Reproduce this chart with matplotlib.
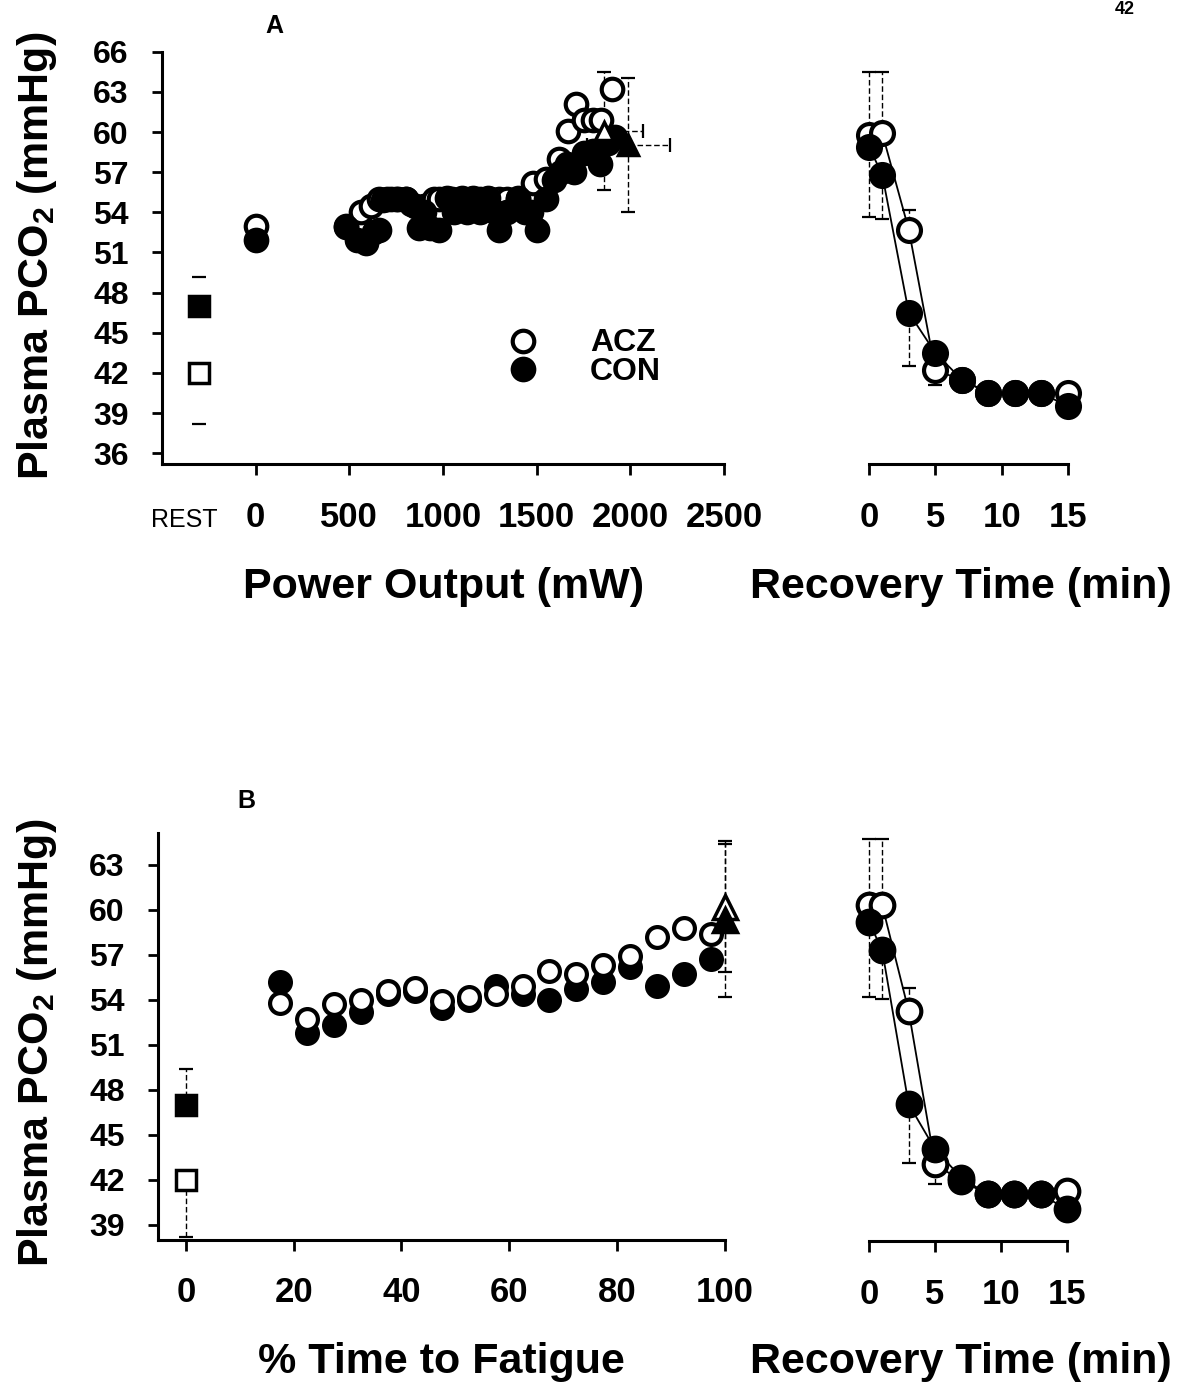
import matplotlib

matplotlib.use("Agg")
import matplotlib.pyplot as plt
from matplotlib.lines import Line2D

# ---------------- data ----------------
REST_X_A = -300          # where the resting samples sit on the power axis
REST_LABEL_X_A = -380

# Panel A, exercise: power output (mW) vs plasma PCO2 (mmHg)
acz_power = [0, 480, 560, 615, 660, 700, 750, 800, 850, 900, 950, 980, 1050, 1100,
             1150, 1200, 1250, 1300, 1340, 1400, 1480, 1550, 1620, 1665, 1710, 1750,
             1800, 1845, 1900]
acz_pco2_a = [53.0, 53.0, 54.0, 54.5, 55.0, 55.0, 55.0, 55.0, 54.5, 54.5, 55.0, 55.0,
              55.0, 55.0, 55.0, 55.0, 55.0, 55.0, 55.0, 55.0, 56.2, 56.5, 58.0, 60.1,
              62.1, 60.9, 60.9, 60.9, 63.2]
con_power = [0, 480, 540, 590, 630, 660, 680, 720, 760, 800, 830, 870, 900, 930, 980,
             1020, 1060, 1100, 1130, 1160, 1200, 1240, 1280, 1300, 1340, 1400, 1440,
             1470, 1500, 1550, 1590, 1630, 1660, 1700, 1750, 1800, 1840, 1880, 1920]
con_pco2_a = [51.9, 52.9, 51.9, 51.7, 52.5, 52.7, 54.9, 55.0, 55.0, 55.0, 54.6, 52.8,
              54.0, 52.8, 52.7, 55.1, 54.0, 55.1, 54.0, 55.1, 54.0, 55.1, 54.0, 52.7,
              54.0, 55.1, 54.0, 54.0, 52.7, 55.0, 56.4, 57.0, 57.6, 57.0, 58.4, 58.6,
              57.6, 59.2, 59.6]

rest_acz_a, rest_acz_a_err = 42.0, 3.8
rest_con_a, rest_con_a_err = 47.0, 2.2

# end-exercise (fatigue) means with x and y error
end_acz_power, end_acz_power_err, end_acz_a, end_acz_a_err = 1860, 210, 60.1, 4.4
end_con_power, end_con_power_err, end_con_a, end_con_a_err = 1990, 220, 59.0, 5.0

# Panel A, recovery
rec_time = [0, 1, 3, 5, 7, 9, 11, 13, 15]
rec_acz_a = [59.8, 59.9, 52.7, 42.2, 41.5, 40.5, 40.5, 40.5, 40.5]
rec_con_a = [58.9, 56.8, 46.5, 43.5, 41.5, 40.5, 40.5, 40.5, 39.5]
rec_acz_a_up = [4.7, 4.6, 1.45, 0, 0, 0, 0, 0, 0]
rec_acz_a_lo = [0, 0, 0, 1.1, 0, 0, 0, 0, 0]
rec_con_a_lo = [5.25, 3.3, 3.95, 0, 0, 0, 0, 0, 0]

# Panel B, exercise: % time to fatigue
pct_time = [17.5, 22.5, 27.5, 32.5, 37.5, 42.5, 47.5, 52.5, 57.5, 62.5, 67.5, 72.5,
            77.5, 82.5, 87.5, 92.5, 97.5]
acz_pco2_b = [53.8, 52.7, 53.7, 54.0, 54.55, 54.8, 53.9, 54.2, 54.4, 54.9, 55.9, 55.7,
              56.3, 56.9, 58.2, 58.8, 58.4]
con_pco2_b = [55.2, 51.8, 52.3, 53.2, 54.4, 54.6, 53.45, 54.0, 54.9, 54.4, 54.0, 54.7,
              55.2, 56.2, 54.9, 55.7, 56.7]

rest_acz_b, rest_acz_b_err = 42.0, 3.8
rest_con_b, rest_con_b_err = 47.0, 2.4
end_acz_b, end_acz_b_err = 60.2, 4.35
end_con_b, end_con_b_err = 59.3, 5.1

# Panel B, recovery
rec_acz_b = [60.3, 60.3, 53.3, 43.1, 42.0, 41.1, 41.1, 41.1, 41.3]
rec_con_b = [59.2, 57.3, 47.1, 44.1, 42.2, 41.1, 41.1, 41.1, 40.1]
rec_acz_b_up = [4.4, 4.4, 1.5, 0, 0, 0, 0, 0, 0]
rec_acz_b_lo = [0, 0, 0, 1.3, 0, 0, 0, 0, 0]
rec_con_b_lo = [5.0, 3.2, 3.9, 0, 0, 0, 0, 0, 0]

yticks_a = [36, 39, 42, 45, 48, 51, 54, 57, 60, 63, 66]
yticks_b = [39, 42, 45, 48, 51, 54, 57, 60, 63]
power_ticks = [0, 500, 1000, 1500, 2000, 2500]
pct_ticks = [0, 20, 40, 60, 80, 100]
rec_ticks = [0, 5, 10, 15]

# ---------------- style ----------------
plt.rcParams.update(
    {
        "font.family": ["Liberation Sans", "DejaVu Sans"],
        "font.weight": "bold",
        "mathtext.fontset": "custom",
        "mathtext.rm": "Liberation Sans:bold",
        "mathtext.default": "rm",
        "axes.linewidth": 2.2,
        "xtick.major.width": 2.0,
        "ytick.major.width": 2.0,
        "xtick.major.size": 8,
        "ytick.major.size": 7,
    }
)

W, H = 1191, 1384
fig = plt.figure(figsize=(W / 100, H / 100), dpi=100)


def _axes(left, right, top, bottom):
    """Axes from pixel edges of the reference image."""
    return fig.add_axes([left / W, 1 - bottom / H, (right - left) / W, (bottom - top) / H])


def _style(ax, show_y):
    ax.spines["top"].set_visible(False)
    ax.spines["right"].set_visible(False)
    if not show_y:
        ax.spines["left"].set_visible(False)
        ax.tick_params(axis="y", left=False, labelleft=False)
    ax.patch.set_alpha(0)


def _errbars(ax, x, y, lower, upper, xerr=None, cap=5, lw=1.0):
    eb = ax.errorbar(x, y, yerr=[lower, upper], xerr=xerr, fmt="none", ecolor="black",
                     elinewidth=lw, capsize=cap, capthick=1.6, zorder=1, clip_on=False)
    for lc in eb[2]:
        lc.set_linestyle((0, (4, 2)))
        lc.set_clip_on(False)
        if lw == 0:
            lc.set_visible(False)
    for cap_line in eb[1]:
        cap_line.set_clip_on(False)


def _pts(ax, x, y, marker, filled, ms, z, mew=3.0):
    ax.plot(x, y, ls="none", marker=marker, ms=ms, mfc="black" if filled else "white",
            mec="black", mew=mew, zorder=z, clip_on=False)


def _recovery(ax, acz, con, acz_up, acz_lo, con_lo, ylim, ms):
    _style(ax, show_y=False)
    _errbars(ax, rec_time, acz, acz_lo, acz_up, cap=5)
    _errbars(ax, rec_time, con, con_lo, [0] * len(con), cap=5)
    ax.plot(rec_time, acz, color="black", lw=1.3, zorder=2)
    ax.plot(rec_time, con, color="black", lw=1.3, zorder=2)
    _pts(ax, rec_time, acz, "o", False, ms, 3)
    _pts(ax, rec_time, con, "o", True, ms, 4)
    ax.set_xlim(0, 15)
    ax.set_ylim(*ylim)
    ax.set_xticks(rec_ticks)
    ax.tick_params(axis="x", labelsize=25, pad=19)


# ---------------- panel A ----------------
ylim_a = (35.2, 66)
ax_a = _axes(162, 724, 51.7, 464)
_style(ax_a, show_y=True)
# resting error bars: only the caps survive in the scan
_errbars(ax_a, [REST_X_A], [rest_acz_a], [rest_acz_a_err], [0], cap=5, lw=0)
_errbars(ax_a, [REST_X_A], [rest_con_a], [0], [rest_con_a_err], cap=5, lw=0)
_errbars(ax_a, [end_acz_power], [end_acz_a], [end_acz_a_err], [end_acz_a_err],
         xerr=[end_acz_power_err], cap=5)
_errbars(ax_a, [end_con_power], [end_con_a], [end_con_a_err], [end_con_a_err],
         xerr=[end_con_power_err], cap=5)
_pts(ax_a, [REST_X_A], [rest_acz_a], "s", False, 14, 3, mew=2.5)
_pts(ax_a, [REST_X_A], [rest_con_a], "s", True, 14, 3, mew=2.5)
_pts(ax_a, acz_power, acz_pco2_a, "o", False, 15.5, 3)
_pts(ax_a, con_power, con_pco2_a, "o", True, 15.5, 4)
_pts(ax_a, [end_acz_power], [end_acz_a], "^", False, 13, 5, mew=2.5)
_pts(ax_a, [end_con_power], [end_con_a], "^", True, 15, 5, mew=2.5)
ax_a.set_xlim(-500, 2500)
ax_a.set_ylim(*ylim_a)
ax_a.set_yticks(yticks_a)
ax_a.set_xticks(power_ticks)
ax_a.set_xticks([REST_LABEL_X_A], labels=["REST"], minor=True)
ax_a.tick_params(axis="x", which="major", labelsize=25, pad=19)
ax_a.tick_params(axis="x", which="minor", length=0, labelsize=18, pad=32)
ax_a.tick_params(axis="y", labelsize=23, pad=17)
for lbl in ax_a.get_xticklabels(minor=True):
    lbl.set_fontweight("normal")

ax_ar = _axes(869, 1068, 51.7, 464)
_recovery(ax_ar, rec_acz_a, rec_con_a, rec_acz_a_up, rec_acz_a_lo, rec_con_a_lo, ylim_a, 16.5)

# legend drawn by hand, as in the original
fig.add_artist(Line2D([523 / W], [1 - 341 / H], marker="o", ms=15.5, mfc="white",
                      mec="black", mew=3, ls="none"))
fig.add_artist(Line2D([523 / W], [1 - 369 / H], marker="o", ms=15.5, mfc="black",
                      mec="black", mew=3, ls="none"))
fig.text(590 / W, 1 - 351 / H, "ACZ", fontsize=23, va="baseline", ha="left")
fig.text(590 / W, 1 - 380 / H, "CON", fontsize=23, va="baseline", ha="left")

# ---------------- panel B ----------------
ylim_b = (38.0, 65.1)
ax_b = _axes(158, 724.5, 833, 1240)
_style(ax_b, show_y=True)
_errbars(ax_b, [0], [rest_acz_b], [rest_acz_b_err], [0], cap=5)
_errbars(ax_b, [0], [rest_con_b], [0], [rest_con_b_err], cap=5)
_errbars(ax_b, [100], [end_acz_b], [end_acz_b_err], [end_acz_b_err], cap=5)
_errbars(ax_b, [100], [end_con_b], [end_con_b_err], [end_con_b_err], cap=5)
_pts(ax_b, [0], [rest_acz_b], "s", False, 14, 3, mew=2.5)
_pts(ax_b, [0], [rest_con_b], "s", True, 14, 3, mew=2.5)
_pts(ax_b, pct_time, con_pco2_b, "o", True, 15, 3)
_pts(ax_b, pct_time, acz_pco2_b, "o", False, 15, 4)
_pts(ax_b, [100], [end_acz_b], "^", False, 17, 5, mew=2.5)
_pts(ax_b, [100], [end_con_b], "^", True, 17, 6, mew=2.5)
ax_b.set_xlim(-5.2, 100)
ax_b.set_ylim(*ylim_b)
ax_b.set_yticks(yticks_b)
ax_b.set_xticks(pct_ticks)
ax_b.tick_params(axis="x", labelsize=25, pad=18)
ax_b.tick_params(axis="y", labelsize=23, pad=17)

ax_br = _axes(869, 1067, 833, 1241)
_recovery(ax_br, rec_acz_b, rec_con_b, rec_acz_b_up, rec_acz_b_lo, rec_con_b_lo, ylim_b, 17)

# ---------------- labels ----------------
ylab = "Plasma PCO$_2$ (mmHg)"
fig.text(37 / W, 1 - 256 / H, ylab, rotation=90, fontsize=31, ha="center", va="center")
fig.text(37 / W, 1 - 1043 / H, ylab, rotation=90, fontsize=31, ha="center", va="center")
fig.text(444 / W, 1 - 598 / H, "Power Output (mW)", fontsize=31, ha="center", va="baseline")
fig.text(961 / W, 1 - 598 / H, "Recovery Time (min)", fontsize=31, ha="center", va="baseline")
fig.text(441 / W, 1 - 1373 / H, "% Time to Fatigue", fontsize=31, ha="center", va="baseline")
fig.text(961 / W, 1 - 1373 / H, "Recovery Time (min)", fontsize=31, ha="center", va="baseline")
fig.text(274 / W, 1 - 33 / H, "A", fontsize=18, ha="center", va="baseline")
fig.text(246 / W, 1 - 808 / H, "B", fontsize=18, ha="center", va="baseline")
# page number in the top corner of the scan
fig.text(1125 / W, 1 - 10 / H, "42", fontsize=13, ha="center", va="center")

fig.savefig("out.png", dpi=100)
